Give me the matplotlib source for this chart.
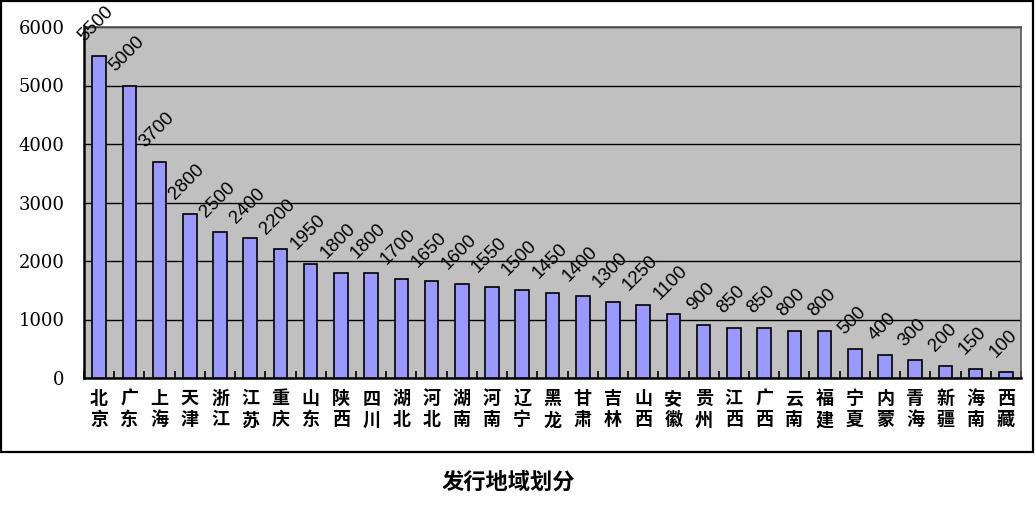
import numpy as np
import matplotlib
matplotlib.use("Agg")
from matplotlib import pyplot as plt
from matplotlib.patches import Rectangle

# 各地区数据
regions = ["北京", "广东", "上海", "天津", "浙江", "江苏", "重庆", "山东", "陕西", "四川",
           "湖北", "河北", "湖南", "河南", "辽宁", "黑龙", "甘肃", "吉林", "山西", "安徽",
           "贵州", "江西", "广西", "云南", "福建", "宁夏", "内蒙", "青海", "新疆", "海南", "西藏"]
values = [5500, 5000, 3700, 2800, 2500, 2400, 2200, 1950, 1800, 1800,
          1700, 1650, 1600, 1550, 1500, 1450, 1400, 1300, 1250, 1100,
          900, 850, 850, 800, 800, 500, 400, 300, 200, 150, 100]
y_ticks = [0, 1000, 2000, 3000, 4000, 5000, 6000]
title = "发行地域划分"

cjk = ["Noto Sans CJK SC", "DejaVu Sans"]

fig = plt.figure(figsize=(10.36, 5.15), dpi=100)
ax = fig.add_axes([84 / 1036, 1 - 378 / 515, (1021 - 84) / 1036, (378 - 27) / 515])

# 图表外框
fig.patches.append(Rectangle((1 / 1036, 1 - 452 / 515), 1032 / 1036, 451 / 515,
                             transform=fig.transFigure, fill=False,
                             edgecolor="black", linewidth=1.6, zorder=0))

x = np.arange(len(values))
ax.set_facecolor("#C0C0C0")
ax.bar(x, values, width=0.45, color="#9999FF", edgecolor="black", linewidth=1.2, zorder=3)

ax.set_xlim(-0.5, len(values) - 0.5)
ax.set_ylim(0, 6000)
ax.set_yticks(y_ticks)
ax.set_yticklabels([str(v) for v in y_ticks], fontsize=13, family="DejaVu Serif")
ax.yaxis.grid(True, color="black", linewidth=1.0, zorder=1)
ax.tick_params(axis="y", length=0, pad=14)

# 两字竖排的横轴标签
ax.set_xticks(x)
ax.set_xticklabels([r[0] + "\n" + r[1] for r in regions], family=cjk,
                   fontsize=13, fontweight="bold", linespacing=1.15)
ax.tick_params(axis="x", length=0, pad=8)
ax.set_xticks(np.arange(len(values) + 1) - 0.5, minor=True)
ax.tick_params(axis="x", which="minor", direction="in", length=5, width=1.2)

for s in ["left", "bottom"]:
    ax.spines[s].set_linewidth(1.8)
    ax.spines[s].set_color("black")
for s in ["top", "right"]:
    ax.spines[s].set_linewidth(1.2)
    ax.spines[s].set_color("#555555")

# 数值标签
for xi, v in zip(x, values):
    ax.annotate(str(v), (xi, v), xytext=(-2, 8), textcoords="offset points",
                ha="center", va="bottom", rotation=45, fontsize=13.5,
                family="Liberation Sans", zorder=4)

fig.text(508 / 1036, 1 - 482 / 515, title, ha="center", va="center",
         family=cjk, fontsize=16, fontweight="bold")

fig.savefig("out.png", dpi=100)
